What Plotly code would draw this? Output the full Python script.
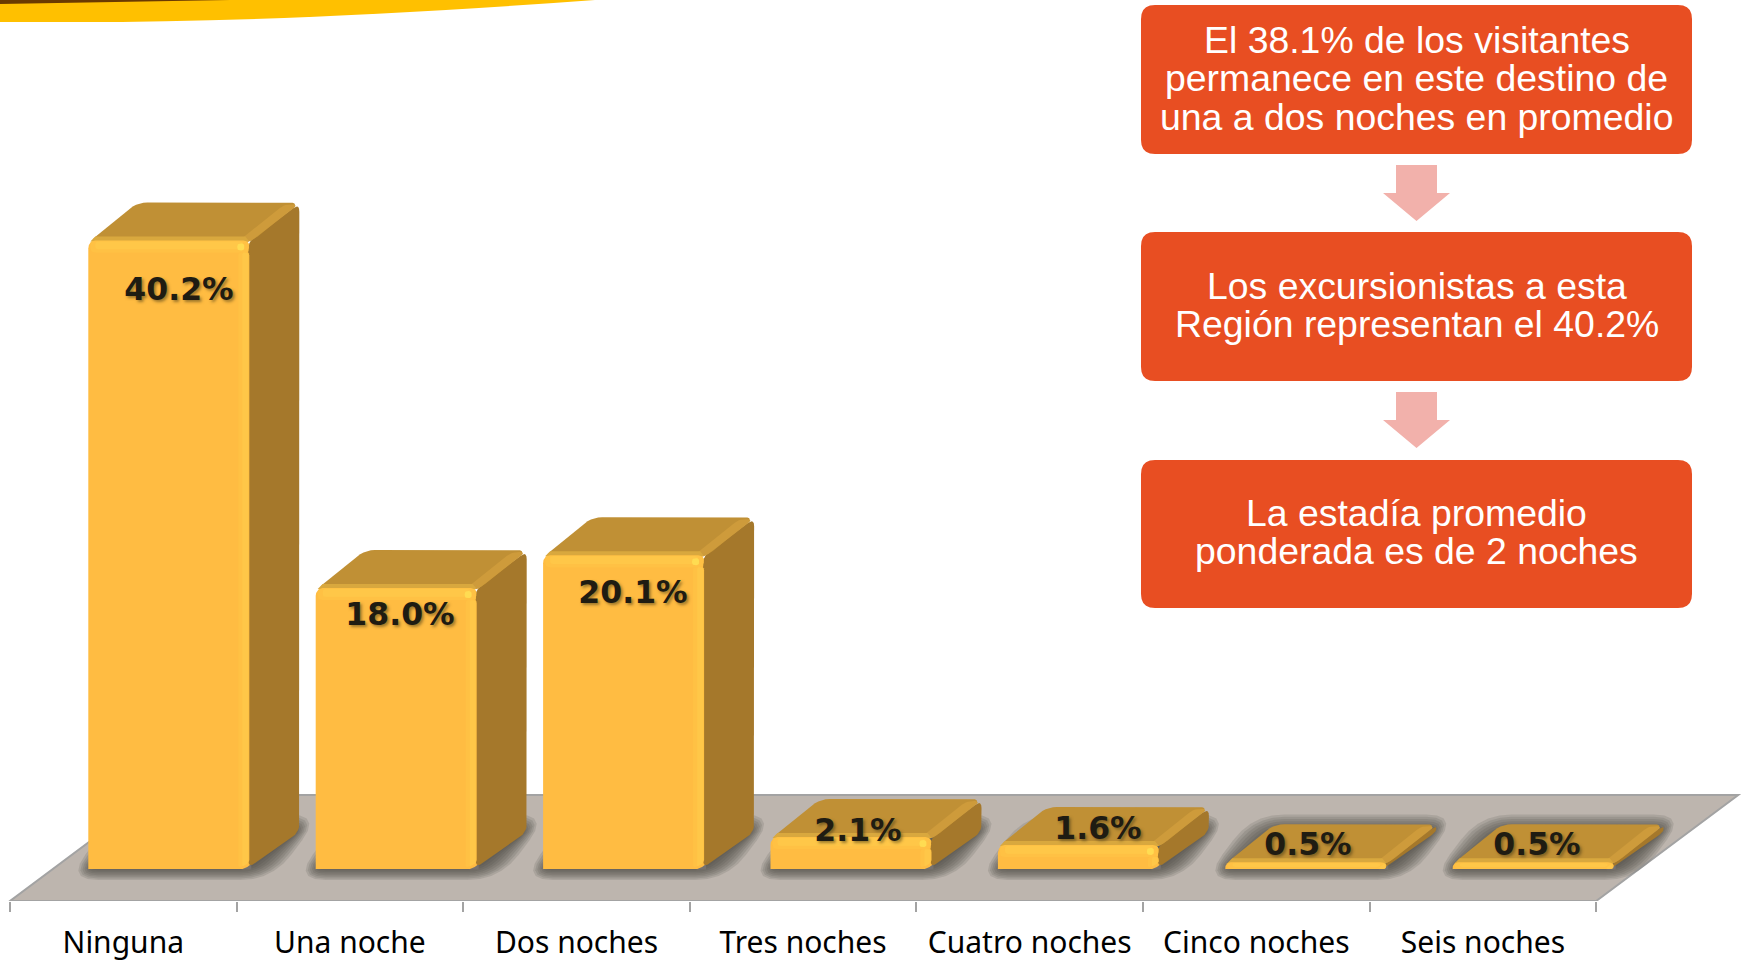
import plotly.graph_objects as go

# ---------- data ----------
categories = ["Ninguna", "Una noche", "Dos noches", "Tres noches", "Cuatro noches", "Cinco noches", "Seis noches"]
values = [40.2, 18.0, 20.1, 2.1, 1.6, 0.5, 0.5]
value_labels = ["40.2%", "18.0%", "20.1%", "2.1%", "1.6%", "0.5%", "0.5%"]
box_lines = [
    ["El 38.1% de los visitantes", "permanece en este destino de", "una a dos noches en promedio"],
    ["Los excursionistas a esta", "Región representan el 40.2%"],
    ["La estadía promedio", "ponderada es de 2 noches"],
]

# ---------- geometry of the oblique projection (pixels) ----------
W, H = 1742, 963
CAT0_PX, CAT_STEP = 123.3, 226.6
BAR_STEP = 227.4         # bars advance a touch faster than the ticks
K = 15.66                # pixels per percentage point
BASE_PX = 869            # y pixel of value 0 on the bar fronts
AXIS_PX = 901            # y pixel of the floor's front edge
BAR_W, SHIFT = 162, 46   # bar width, shift of the bars towards the back of the floor
DDX, DDY = 49, 37        # depth of a bar
FDX, FDY = 142, 106      # depth of the floor

x_px_to_data = lambda p: (p - CAT0_PX) / CAT_STEP
y_px_to_data = lambda p: (BASE_PX - p) / K
xr = [x_px_to_data(0), x_px_to_data(W)]
yr = [y_px_to_data(AXIS_PX), y_px_to_data(0)]
bar_left = lambda i: CAT0_PX + BAR_STEP * i + SHIFT - BAR_W / 2

C_FRONT, C_BAND, C_BAND2, C_TOP, C_TOPB, C_EDGE, C_SIDE = ("#FFBC42", "#FFC144", "#FFC748", "#C09035", "#CE9B3B",
                                                            "#D9A83E", "#A5782B")


def rounded(pts, r):
    out = []
    n = len(pts)
    for i in range(n):
        px, py = pts[i - 1]
        cx, cy = pts[i]
        nx, ny = pts[(i + 1) % n]
        d1 = max(((px - cx) ** 2 + (py - cy) ** 2) ** 0.5, 1e-6)
        d2 = max(((nx - cx) ** 2 + (ny - cy) ** 2) ** 0.5, 1e-6)
        r1 = min(r, d1 / 2)
        r2 = min(r, d2 / 2)
        a = (cx + (px - cx) * r1 / d1, cy + (py - cy) * r1 / d1)
        b = (cx + (nx - cx) * r2 / d2, cy + (ny - cy) * r2 / d2)
        for t in (0, .2, .4, .6, .8, 1):
            out.append(((1 - t) ** 2 * a[0] + 2 * t * (1 - t) * cx + t ** 2 * b[0],
                        (1 - t) ** 2 * a[1] + 2 * t * (1 - t) * cy + t ** 2 * b[1]))
    return out


def data_path(pts):
    return "M" + " L".join(f"{x_px_to_data(x):.4f},{y_px_to_data(y):.4f}" for x, y in pts) + " Z"


def paper_path(pts):
    return "M" + " L".join(f"{x / W:.5f},{1 - y / H:.5f}" for x, y in pts) + " Z"


fig = go.Figure()
shapes = []

# floor
fl, fr = CAT0_PX - CAT_STEP / 2, CAT0_PX + CAT_STEP * 6.5
shapes.append(dict(type="path", xref="x", yref="y", layer="below", fillcolor="#BDB5AE",
                   line=dict(color="#A3A3A3", width=2),
                   path=data_path([(fl, AXIS_PX), (fr, AXIS_PX), (fr + FDX, AXIS_PX - FDY), (fl + FDX, AXIS_PX - FDY)])))

# soft shadows on the floor
SHADOW_STEPS = (22, 19, 16, 13, 10, 7, 4, 1)
for i, v in enumerate(values):
    xL = bar_left(i)
    xR = xL + BAR_W
    for e in SHADOW_STEPS:
        pts = [(xL - e, BASE_PX + e * .55 - 1), (xR + e, BASE_PX + e * .55 - 1),
               (xR + DDX + e, BASE_PX - DDY - e * .75 - 1), (xL + DDX - e, BASE_PX - DDY - e * .75 - 1)]
        shapes.append(dict(type="path", xref="x", yref="y", layer="below",
                           fillcolor="rgba(70,66,62,0.15)", line=dict(width=0),
                           path=data_path(rounded(pts, e + 10))))


def poly(pts, color):
    fig.add_trace(go.Scatter(x=[x_px_to_data(p[0]) for p in pts], y=[y_px_to_data(p[1]) for p in pts],
                             mode="lines", fill="toself", fillcolor=color, line=dict(width=0),
                             hoverinfo="skip", showlegend=False))


# front faces: true bars
fig.add_trace(go.Bar(x=[x_px_to_data(bar_left(i) + BAR_W / 2) for i in range(len(values))], y=values,
                     width=BAR_W / CAT_STEP, marker=dict(color=C_FRONT, cornerradius=9, line=dict(width=0)),
                     hoverinfo="skip", showlegend=False))

# depth faces and bevels derived from each value
for i, v in enumerate(values):
    xL = bar_left(i)
    xR = xL + BAR_W
    h = v * K
    yT = BASE_PX - h
    yB = BASE_PX
    # rounded bottom-right corner of the front
    poly([(xR - 9, yB + 0.5), (xR + 1, yB + 0.5), (xR + 1, yB - 5), (xR - 3, yB - 2)], "#76716D")
    # side face
    poly(rounded([(xR - 2, yT + 2), (xR + DDX, yT - DDY + 1), (xR + DDX, yB - DDY), (xR - 2, yB - 1)], 8), C_SIDE)
    # top face + lighter right-hand strip + lighter near edge
    poly(rounded([(xL, yT + 3), (xL + DDX, yT - DDY), (xR + DDX, yT - DDY), (xR, yT + 3)], 10), C_TOP)
    poly(rounded([(xR - 11, yT + 1), (xR + DDX - 15, yT - DDY + 2), (xR + DDX - 1, yT - DDY + 2), (xR - 1, yT + 3)], 6), C_TOPB)
    poly([(xL + 2, yT + 2), (xL + 7, yT - 3), (xR - 5, yT - 3), (xR - 1, yT + 2)], C_EDGE)
    band = min(13, h)
    # bevels of the front
    poly(rounded([(xL + 2, yT + band), (xL + 2, yT + 1), (xR - 2, yT + 1), (xR - 1, yT + band)], 5), C_BAND)
    poly(rounded([(xL + 7, yT + band * .75), (xL + 7, yT + 2), (xR - 7, yT + 2), (xR - 7, yT + band * .75)], 3), C_BAND2)
    poly(rounded([(xR - 12, yT + band), (xR - 1, yT + band), (xR - 1, yB - 6), (xR - 12, yB - 1)], 3), C_BAND)
    poly(rounded([(xR - 8, yT + band), (xR - 2, yT + band), (xR - 2, yB - 6), (xR - 8, yB - 2)], 2), C_BAND2)
    if h > 20:
        poly(rounded([(xR - 13, yT + 4), (xR - 6, yT + 4), (xR - 6, yT + 11), (xR - 13, yT + 11)], 3), "#FFDC52")

# value labels (hand-placed in the original chart)
label_px = [(179, 292.5), (400, 617), (633, 595), (858, 833), (1098, 831), (1308, 847), (1537, 847)]
fig.add_trace(go.Scatter(x=[x_px_to_data(p[0]) for p in label_px], y=[y_px_to_data(p[1]) for p in label_px],
                         mode="text", text=value_labels, textposition="middle center",
                         textfont=dict(family="DejaVu Sans", size=31.5, color="#1F1C12", weight="bold",
                                       shadow="2px 2px 3px rgba(60,50,20,0.5)"),
                         hoverinfo="skip", showlegend=False, cliponaxis=False))

# header swoosh
shapes.append(dict(type="path", xref="paper", yref="paper", fillcolor="#FFC000", line=dict(width=0), layer="above",
                   path="M0,1 L%.5f,1 Q%.5f,%.5f %.5f,%.5f L0,%.5f Z" % (595 / W, 300 / W, 1 - 22 / H, 80 / W, 1 - 22 / H, 1 - 22 / H)))
shapes.append(dict(type="path", xref="paper", yref="paper", fillcolor="#6B3A00", line=dict(width=0), layer="above",
                   path="M0,1 L%.5f,1 L0,%.5f Z" % (230 / W, 1 - 4 / H)))

# text boxes and arrows
box_l, box_r = 1141, 1692
box_tb = [(5, 154), (232, 381), (460, 608)]
for t, b in box_tb:
    shapes.append(dict(type="path", xref="paper", yref="paper", layer="above", fillcolor="#E84E22", line=dict(width=0),
                       path=paper_path(rounded([(box_l, t), (box_r, t), (box_r, b), (box_l, b)], 14))))
cx = (box_l + box_r) / 2
for dy in (0, 227):
    shapes.append(dict(type="path", xref="paper", yref="paper", layer="above", fillcolor="#F2B1AB", line=dict(width=0),
                       path=paper_path([(cx - 20.5, 165 + dy), (cx + 20.5, 165 + dy), (cx + 20.5, 193 + dy), (cx + 33.5, 193 + dy),
                                        (cx, 221 + dy), (cx - 33.5, 193 + dy), (cx - 20.5, 193 + dy)])))

line_centers = [[40, 78, 117], [286, 324], [513, 551]]
annotations = []
for lines, ys in zip(box_lines, line_centers):
    for txt, y in zip(lines, ys):
        annotations.append(dict(text=txt, x=cx / W, y=1 - y / H, xref="paper", yref="paper", showarrow=False,
                                xanchor="center", yanchor="middle",
                                font=dict(family="Liberation Sans", size=37.4, color="#FFFFFF")))

tick_bounds = [i - 0.5 for i in range(len(categories) + 1)]
fig.update_layout(
    width=W, height=H, margin=dict(l=0, r=0, t=0, b=0, autoexpand=False), paper_bgcolor="#FFFFFF",
    plot_bgcolor="rgba(0,0,0,0)",
    shapes=shapes, annotations=annotations, showlegend=False, barmode="overlay",
    xaxis=dict(type="linear", range=xr, domain=[0, 1], showgrid=False, zeroline=False, showline=False, automargin=False,
               tickmode="array", tickvals=list(range(len(categories))), ticktext=categories,
               ticks="outside", ticklen=15, tickcolor="rgba(0,0,0,0)",
               tickfont=dict(family="Noto Sans", size=30, color="#000000"),
               minor=dict(tickmode="array", tickvals=tick_bounds, ticks="outside", ticklen=10, tickwidth=2,
                          tickcolor="#A3A3A3", showgrid=False)),
    yaxis=dict(range=yr, domain=[(H - AXIS_PX) / H, 1], visible=False, automargin=False),
)

fig.write_html("out.html", config={"displayModeBar": False},
               post_script="document.body.style.margin='0';document.documentElement.style.overflow='hidden';")
